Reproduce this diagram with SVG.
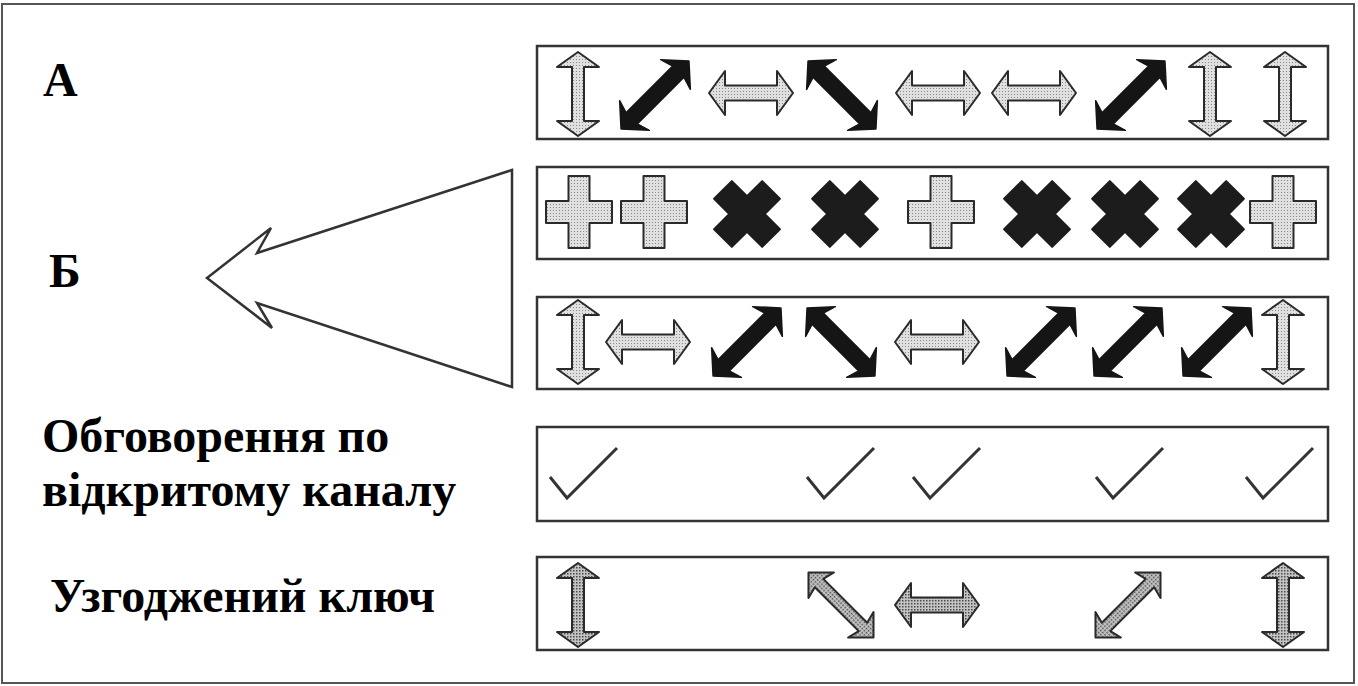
<svg xmlns="http://www.w3.org/2000/svg" xmlns:xlink="http://www.w3.org/1999/xlink" width="1358" height="686" viewBox="0 0 1358 686">
<style>
.lbl{font-family:"Liberation Serif","Times New Roman",serif;font-weight:bold;font-size:48px;fill:#000}
.box{fill:none;stroke:#333;stroke-width:2.5}
.g1{fill:url(#lt);stroke:#2a2a2a;stroke-width:2;stroke-linejoin:round}
.g5{fill:url(#dk);stroke:#2a2a2a;stroke-width:2;stroke-linejoin:round}
.blk{fill:#151515;stroke:#151515;stroke-width:1.5;stroke-linejoin:round}
.xb{fill:#1c1c1c;stroke:#1c1c1c;stroke-width:2;stroke-linejoin:round}
.chk{fill:none;stroke:#333;stroke-width:3;stroke-linejoin:miter}
</style>
<defs>
<pattern id="lt" width="3" height="3" patternUnits="userSpaceOnUse"><rect width="3" height="3" fill="#e0e0e0"/><rect x="1" y="1" width="1" height="1" fill="#888"/></pattern>
<pattern id="dk" width="3" height="3" patternUnits="userSpaceOnUse"><rect width="3" height="3" fill="#c4c4c4"/><rect x="1" y="1" width="1.5" height="1.5" fill="#4a4a4a"/></pattern>
<path id="av" d="M0,-42 L21,-27 L6,-27 L6,27 L21,27 L0,42 L-21,27 L-6,27 L-6,-27 L-21,-27 Z"/>
<path id="ah" d="M-42,0 L-26,-22 L-26,-7.5 L26,-7.5 L26,-22 L42,0 L26,22 L26,7.5 L-26,7.5 L-26,22 Z"/>
<path id="ab" d="M-48,0 L-29,-21 L-33,-8 L33,-8 L29,-21 L48,0 L29,21 L33,8 L-33,8 L-29,21 Z"/>
<path id="ad" d="M-46,0 L-28,-18 L-31,-6 L31,-6 L28,-18 L46,0 L28,18 L31,6 L-31,6 L-28,18 Z"/>
<path id="pl" d="M-10.5,-36 H10.5 V-11 H33 V11 H10.5 V36 H-10.5 V11 H-33 V-11 H-10.5 Z"/>
<path id="xx" d="M-12.5,-34 H12.5 V-12.5 H34 V12.5 H12.5 V34 H-12.5 V12.5 H-34 V-12.5 H-12.5 Z" transform="rotate(45)"/>
<path id="ck" d="M0,0 L17,21 L67,-29"/>
</defs>
<rect width="1358" height="686" fill="#fff"/>
<rect x="2" y="4" width="1352" height="679" fill="none" stroke="#555" stroke-width="2"/>

<g id="label-a"><text class="lbl" x="43" y="96">А</text></g>
<g id="label-b"><text class="lbl" x="49" y="287">Б</text></g>
<g id="label-discussion"><text class="lbl" x="42" y="452">Обговорення по</text><text class="lbl" x="42" y="506">відкритому каналу</text></g>
<g id="label-key"><text class="lbl" x="50" y="612">Узгоджений ключ</text></g>

<g id="row-a">
<rect class="box" x="537" y="46" width="791" height="93"/>
<use href="#av" class="g1" transform="translate(578,94)"/>
<use href="#ab" class="blk" transform="translate(655,95) rotate(-45)"/>
<use href="#ah" class="g1" transform="translate(751,93)"/>
<use href="#ab" class="blk" transform="translate(842,95) rotate(45)"/>
<use href="#ah" class="g1" transform="translate(938,93)"/>
<use href="#ah" class="g1" transform="translate(1034,93)"/>
<use href="#ab" class="blk" transform="translate(1131,95) rotate(-45)"/>
<use href="#av" class="g1" transform="translate(1210,94)"/>
<use href="#av" class="g1" transform="translate(1285,94)"/>
</g>

<g id="row-bases">
<rect class="box" x="537" y="167" width="791" height="92"/>
<use href="#pl" class="g1" transform="translate(579,212)"/>
<use href="#pl" class="g1" transform="translate(654,212)"/>
<use href="#xx" class="xb" transform="translate(747,214)"/>
<use href="#xx" class="xb" transform="translate(845,214)"/>
<use href="#pl" class="g1" transform="translate(941,212)"/>
<use href="#xx" class="xb" transform="translate(1037,214)"/>
<use href="#xx" class="xb" transform="translate(1125,214)"/>
<use href="#xx" class="xb" transform="translate(1211,214)"/>
<use href="#pl" class="g1" transform="translate(1283,212)"/>
</g>

<g id="row-b">
<rect class="box" x="537" y="297" width="791" height="92"/>
<use href="#av" class="g1" transform="translate(578,342)"/>
<use href="#ah" class="g1" transform="translate(648,342)"/>
<use href="#ab" class="blk" transform="translate(747,342) rotate(-45)"/>
<use href="#ab" class="blk" transform="translate(841,342) rotate(45)"/>
<use href="#ah" class="g1" transform="translate(937,342)"/>
<use href="#ab" class="blk" transform="translate(1041,342) rotate(-45)"/>
<use href="#ab" class="blk" transform="translate(1128,342) rotate(-45)"/>
<use href="#ab" class="blk" transform="translate(1217,342) rotate(-45)"/>
<use href="#av" class="g1" transform="translate(1283,342)"/>
</g>

<g id="row-discussion">
<rect class="box" x="537" y="427" width="791" height="94"/>
<use href="#ck" class="chk" transform="translate(550,477)"/>
<use href="#ck" class="chk" transform="translate(807,477)"/>
<use href="#ck" class="chk" transform="translate(913,477)"/>
<use href="#ck" class="chk" transform="translate(1096,477)"/>
<use href="#ck" class="chk" transform="translate(1246,477)"/>
</g>

<g id="row-key">
<rect class="box" x="537" y="557" width="791" height="93"/>
<use href="#av" class="g5" transform="translate(578,605)"/>
<use href="#ad" class="g5" transform="translate(841,605) rotate(45)"/>
<use href="#ah" class="g5" transform="translate(937,605)"/>
<use href="#ad" class="g5" transform="translate(1128,605) rotate(-45)"/>
<use href="#av" class="g5" transform="translate(1283,605)"/>
</g>

<g id="connectors">
<path d="M512,170 L257,253 L271,228 L207,278 L272,328 L257,303 L512,387 Z" fill="#fff" stroke="#333" stroke-width="2.5" stroke-linejoin="miter"/>
</g>
</svg>
